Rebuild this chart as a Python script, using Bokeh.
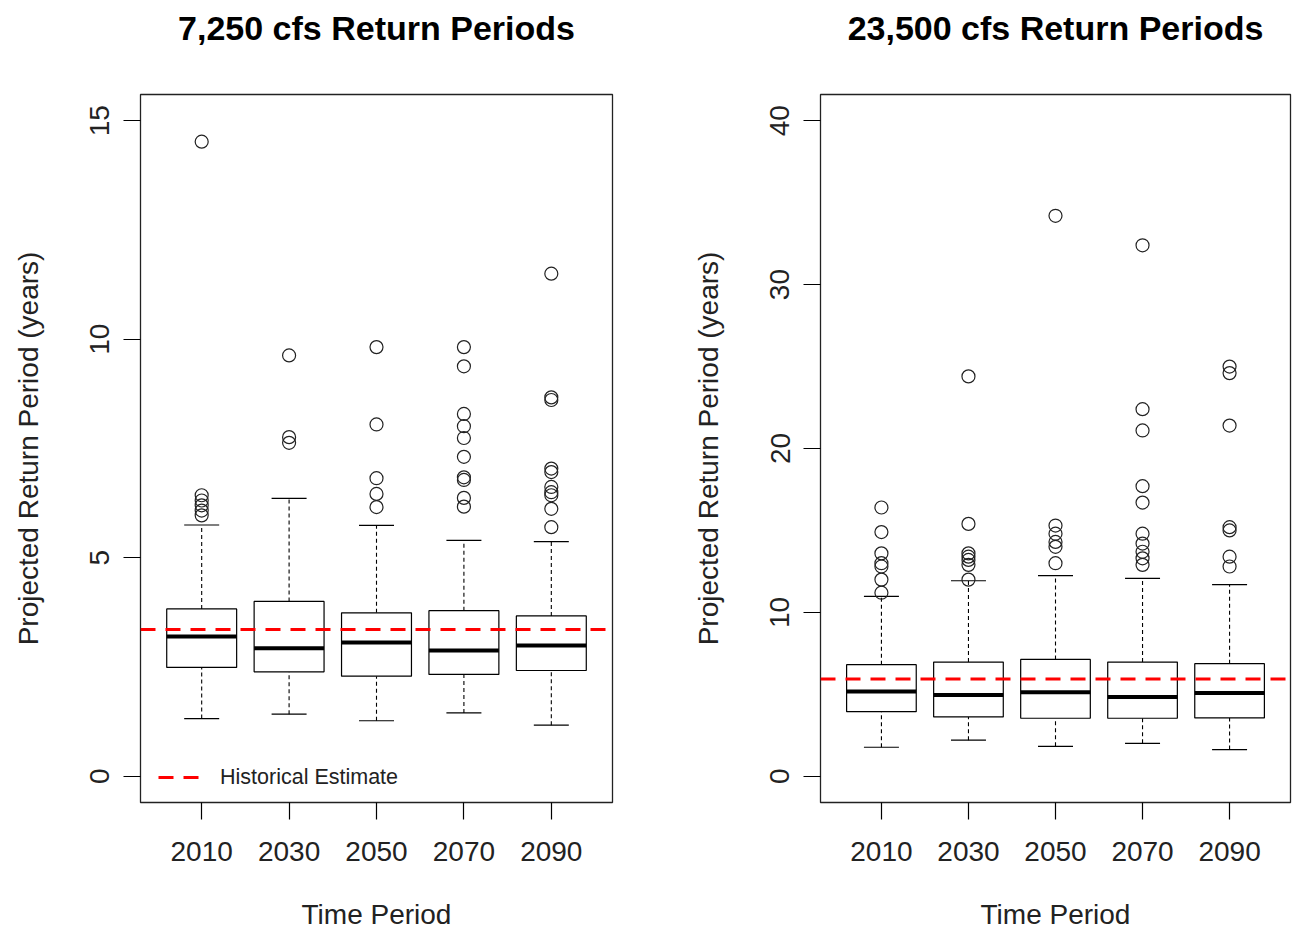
from bokeh.plotting import figure
from bokeh.models import (Span, Legend, LegendItem, FixedTicker, Range1d,
                          FactorRange, Title)
from bokeh.layouts import row
from bokeh.embed import file_html
from bokeh.resources import INLINE

periods = ["2010", "2030", "2050", "2070", "2090"]

# ---- 7,250 cfs ----
a_lower = [1.32, 1.42, 1.27, 1.45, 1.17]
a_q1 = [2.49, 2.39, 2.29, 2.33, 2.42]
a_median = [3.20, 2.93, 3.06, 2.88, 2.99]
a_q3 = [3.83, 4.00, 3.74, 3.79, 3.67]
a_upper = [5.75, 6.36, 5.74, 5.40, 5.37]
a_outliers = [
    [14.52, 6.43, 6.31, 6.20, 6.08, 5.97],
    [9.63, 7.76, 7.63],
    [9.82, 8.05, 6.82, 6.46, 6.16],
    [9.82, 9.38, 8.29, 8.01, 7.74, 7.31, 6.84, 6.78, 6.37, 6.17],
    [11.50, 8.67, 8.61, 7.04, 6.96, 6.62, 6.50, 6.43, 6.12, 5.70],
]
a_hist = 3.36
a_ticks = [0, 5, 10, 15]

# ---- 23,500 cfs ----
b_lower = [1.77, 2.20, 1.83, 2.01, 1.63]
b_q1 = [3.94, 3.62, 3.54, 3.54, 3.56]
b_median = [5.18, 4.96, 5.12, 4.84, 5.08]
b_q3 = [6.81, 6.97, 7.13, 6.97, 6.87]
b_upper = [10.98, 11.93, 12.24, 12.07, 11.69]
b_outliers = [
    [16.4, 14.9, 13.6, 13.0, 12.8, 12.0, 11.2],
    [24.4, 15.4, 13.6, 13.4, 13.2, 12.9, 12.0],
    [34.2, 15.3, 14.8, 14.3, 14.0, 13.0],
    [32.4, 22.4, 21.1, 17.7, 16.7, 14.8, 14.2, 13.7, 13.3, 12.9],
    [25.0, 24.6, 21.4, 15.2, 15.0, 13.4, 12.8],
]
b_hist = 5.93
b_ticks = [0, 10, 20, 30, 40]

FONT = "Liberation Sans"
H = 934
TOP = 94
BOTTOM = 132


def make_panel(title, lower, q1, med, q3, upper, outliers, hist, ticks,
               width, bl, br, legend=False):
    ymax = ticks[-1]
    p = figure(x_range=FactorRange(factors=periods, range_padding=0.08),
               y_range=Range1d(-0.04 * ymax, 1.04 * ymax),
               width=width, height=H, output_backend="svg",
               toolbar_location=None,
               min_border_left=bl, min_border_right=br,
               min_border_top=TOP, min_border_bottom=BOTTOM)
    p.xgrid.visible = False
    p.ygrid.visible = False
    p.outline_line_color = "#222222"
    p.outline_line_width = 1.3
    p.background_fill_color = "white"
    p.border_fill_color = "white"

    # whiskers
    p.segment(x0=periods, y0=q3, x1=periods, y1=upper, line_color="black",
              line_width=1.1, line_dash="4 3")
    p.segment(x0=periods, y0=lower, x1=periods, y1=q1, line_color="black",
              line_width=1.1, line_dash="4 3")
    # boxes
    p.vbar(x=periods, width=0.8, bottom=q1, top=q3, fill_color="white",
           line_color="black", line_width=1.2)
    # medians
    p.rect(x=periods, y=med, width=0.8, height=4, height_units="screen",
           fill_color="black", line_color=None)
    # caps
    p.scatter(x=periods, y=upper, marker="dash", size=35, line_color="black",
              line_width=1.2)
    p.scatter(x=periods, y=lower, marker="dash", size=35, line_color="black",
              line_width=1.2)
    # outliers
    ox, oy = [], []
    for cat, vals in zip(periods, outliers):
        for v in vals:
            ox.append(cat)
            oy.append(v)
    p.scatter(x=ox, y=oy, marker="circle", size=13, fill_color=None,
              line_color="#222222", line_width=1.2)

    p.add_layout(Span(location=hist, dimension="width", line_color="red",
                      line_dash="15 10", line_width=3))

    if legend:
        # off-screen line, only used to draw the legend swatch
        r = p.line(x=[periods[0], periods[1]], y=[-1000, -1000],
                   line_color="red", line_dash="15 10", line_width=3)
        lg = Legend(items=[LegendItem(label="Historical Estimate",
                                      renderers=[r])],
                    location=(18, 12), border_line_color=None,
                    background_fill_alpha=0, label_text_font_size="21.5px",
                    label_text_font=FONT, label_text_color="#222222",
                    glyph_width=42, glyph_height=26, label_height=26,
                    label_standoff=20, padding=0, spacing=0, margin=0)
        p.add_layout(lg)

    # title (outermost) with a blank spacer title between it and the frame
    p.title.text = title
    p.title.text_font = FONT
    p.title.text_font_size = "34px"
    p.title.text_font_style = "bold"
    p.title.align = "center"
    p.title.standoff = 0
    p.title.text_color = "black"
    spacer = Title(text=" ", text_font_size="10px", standoff=35)
    p.add_layout(spacer, "above")

    # y axis
    ya = p.yaxis[0]
    ya.ticker = FixedTicker(ticks=ticks)
    ya.axis_line_color = None
    ya.major_tick_in = 0
    ya.major_tick_out = 17
    ya.major_tick_line_width = 1.2
    ya.major_label_orientation = "vertical"
    ya.major_label_text_font = FONT
    ya.major_label_text_font_size = "28px"
    ya.major_label_text_color = "#222222"
    ya.major_label_standoff = 14
    ya.axis_label = "Projected Return Period (years)"
    ya.axis_label_text_font = FONT
    ya.axis_label_text_font_size = "28px"
    ya.axis_label_text_font_style = "normal"
    ya.axis_label_text_color = "#222222"
    ya.axis_label_standoff = 44

    # x axis
    xa = p.xaxis[0]
    xa.axis_line_color = None
    xa.major_tick_in = 0
    xa.major_tick_out = 17
    xa.major_tick_line_width = 1.2
    xa.major_label_text_font = FONT
    xa.major_label_text_font_size = "28px"
    xa.major_label_text_color = "#222222"
    xa.major_label_standoff = 22
    xa.axis_label = "Time Period"
    xa.axis_label_text_font = FONT
    xa.axis_label_text_font_size = "28px"
    xa.axis_label_text_font_style = "normal"
    xa.axis_label_text_color = "#222222"
    xa.axis_label_standoff = 35
    return p


p1 = make_panel("7,250 cfs Return Periods", a_lower, a_q1, a_median, a_q3,
                a_upper, a_outliers, a_hist, a_ticks,
                width=680, bl=140, br=68, legend=True)
p2 = make_panel("23,500 cfs Return Periods", b_lower, b_q1, b_median, b_q3,
                b_upper, b_outliers, b_hist, b_ticks,
                width=612, bl=140, br=2)

layout = row(p1, p2)
open("out.html", "w").write(file_html(layout, INLINE))
